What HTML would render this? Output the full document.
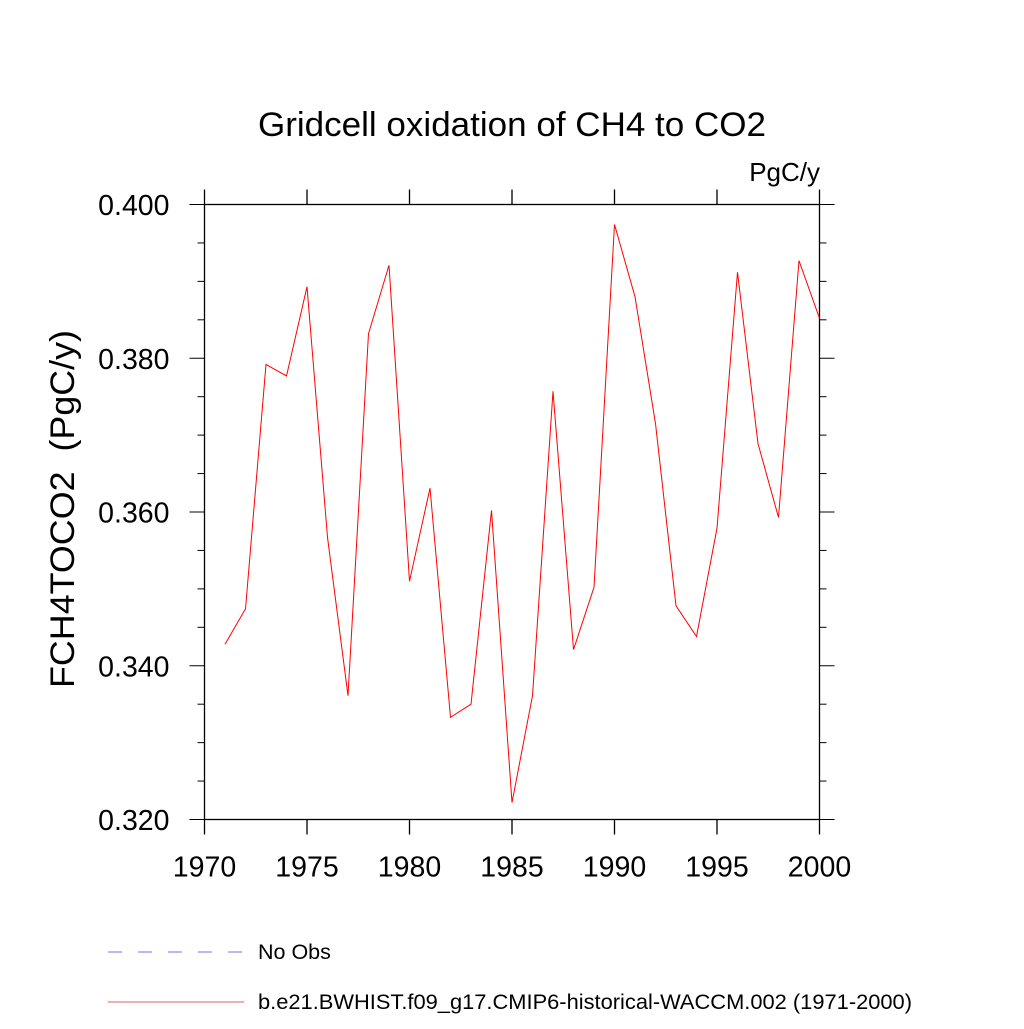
<!DOCTYPE html>
<html><head><meta charset="utf-8"><style>
html,body{margin:0;padding:0;background:#fff}
svg text{font-family:"Liberation Sans",sans-serif;fill:#000}
</style></head><body>
<svg id="chart" width="1024" height="1024" xmlns="http://www.w3.org/2000/svg">
<text x="512" y="136" font-size="34" text-anchor="middle" textLength="508" lengthAdjust="spacingAndGlyphs">Gridcell oxidation of CH4 to CO2</text>
<text x="820" y="181" font-size="26" text-anchor="end">PgC/y</text>
<text transform="translate(74,509) rotate(-90)" font-size="34" text-anchor="middle" textLength="358" lengthAdjust="spacingAndGlyphs" xml:space="preserve">FCH4TOCO2  (PgC/y)</text>
<g id="axes"></g>
<g id="series"></g>
<g>
<line x1="108" y1="952" x2="244" y2="952" stroke="#7070ff" stroke-width="1" stroke-dasharray="14,16"/>
<text x="258" y="959" font-size="21.5">No Obs</text>
<line x1="108" y1="1002" x2="244" y2="1002" stroke="#e06060" stroke-width="1"/>
<text x="258" y="1009" font-size="21.5" textLength="654" lengthAdjust="spacingAndGlyphs">b.e21.BWHIST.f09_g17.CMIP6-historical-WACCM.002 (1971-2000)</text>
</g>
</svg>
<script>
const years = [1971,1972,1973,1974,1975,1976,1977,1978,1979,1980,1981,1982,1983,1984,1985,1986,1987,1988,1989,1990,1991,1992,1993,1994,1995,1996,1997,1998,1999,2000];
const values = [0.3428,0.3474,0.3792,0.3777,0.3893,0.3567,0.3361,0.3832,0.3921,0.3510,0.3631,0.3333,0.3350,0.3602,0.3222,0.3361,0.3757,0.3421,0.3502,0.3974,0.3880,0.3715,0.3478,0.3438,0.3579,0.3912,0.3689,0.3593,0.3927,0.3852];
const xTicks = [1970,1975,1980,1985,1990,1995,2000];
const yTicks = [0.320,0.340,0.360,0.380,0.400];
const yTickLabels = ["0.320","0.340","0.360","0.380","0.400"];

const L=204.5,R=819.5,T=204.5,B=819.5;
const X=v=>L+(v-1970)/30*(R-L);
const Y=v=>B-(v-0.32)/0.08*(B-T);
const NS="http://www.w3.org/2000/svg";
const axes=document.getElementById('axes');
function ln(x1,y1,x2,y2,w,name){const l=document.createElementNS(NS,'line');
l.setAttribute('x1',x1);l.setAttribute('y1',y1);l.setAttribute('x2',x2);l.setAttribute('y2',y2);
l.setAttribute('stroke','#000');l.setAttribute('stroke-width',w);


axes.appendChild(l);return l;}
function tx(x,y,s,anchor,name){const t=document.createElementNS(NS,'text');
t.setAttribute('x',x);t.setAttribute('y',y);t.setAttribute('font-size','28.5');t.setAttribute('text-anchor',anchor);t.textContent=s;


axes.appendChild(t);}
const r=document.createElementNS(NS,'rect');
r.setAttribute('x',L);r.setAttribute('y',T);r.setAttribute('width',R-L);r.setAttribute('height',B-T);
r.setAttribute('fill','none');r.setAttribute('stroke','#000');r.setAttribute('stroke-width','1.3');


axes.appendChild(r);
xTicks.forEach(v=>{const x=X(v);
 ln(x,B,x,B+15,1.3,'x-tick');ln(x,T,x,T-15,1.3,'x-tick-top');
 tx(x,B+57,String(v),'middle','x-tick-label');});
for(let v=0.320;v<=0.4001;v+=0.005){const y=Y(v);
 const major=Math.abs(Math.round(v*1000)%20)<0.5;
 const len=major?15:7;
 ln(L,y,L-len,y,1,major?'y-tick':'y-minor-tick');ln(R,y,R+len,y,1,major?'y-tick-right':'y-minor-tick-right');}
yTicks.forEach((v,i)=>tx(L-35,Y(v)+10.5,yTickLabels[i],'end','y-tick-label'));
const p=document.createElementNS(NS,'polyline');
p.setAttribute('points',years.map((y,i)=>X(y)+','+Y(values[i])).join(' '));
p.setAttribute('fill','none');p.setAttribute('stroke','#ff0000');p.setAttribute('stroke-width','1');


document.getElementById('series').appendChild(p);
</script>
</body></html>
